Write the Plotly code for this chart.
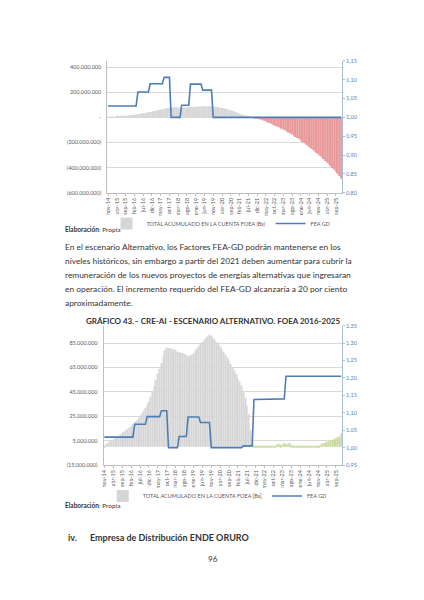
import plotly.graph_objects as go

# --- Categories: monthly from nov-14 to dic-25 ---
MESES = ["ene", "feb", "mar", "abr", "may", "jun", "jul", "ago", "sep", "oct", "nov", "dic"]
months = [f"{m}-14" for m in MESES[10:]] + [f"{m}-{y:02d}" for y in range(15, 26) for m in MESES]
tick_months = months[::5]

# --- Chart 1 (page top): accumulated FOEA account, millions of Bs ---
foea_1 = [
    0.5, 1.5, 2.5, 3.5, 4.5, 5.8, 7.0, 8.5, 10.0, 11.5,
    13.0, 14.5, 16.0, 17.5, 19.0, 21.0, 23.0, 25.0, 27.0, 29.5,
    32.0, 34.5, 37.0, 40.0, 43.0, 46.0, 49.0, 52.0, 55.0, 58.0,
    61.0, 64.0, 67.0, 70.0, 73.0, 76.0, 78.0, 79.0, 79.5, 79.5,
    79.0, 78.5, 78.0, 78.0, 78.5, 79.0, 80.0, 81.0, 82.0, 83.0,
    84.0, 85.0, 86.0, 87.0, 88.0, 88.5, 89.0, 89.0, 88.5, 87.5,
    86.0, 84.0, 82.0, 79.5, 77.0, 74.0, 71.0, 67.5, 64.0, 60.0,
    56.0, 51.5, 47.0, 40.0, 34.0, 29.0, 24.5, 20.0, 15.0, 10.5,
    6.5, 3.0, 0.5, -2.0, -5.0, -9.0, -13.5, -18.0, -22.5, -27.5,
    -33.0, -39.0, -45.0, -51.5, -58.0, -64.5, -71.0, -77.5, -84.0, -90.5,
    -97.0, -104.0, -112.0, -120.0, -128.5, -137.0, -146.0, -155.5, -165.0, -175.0,
    -185.5, -196.0, -207.0, -217.5, -228.0, -238.5, -249.5, -260.5, -272.0, -284.0,
    -296.0, -308.5, -321.0, -334.0, -347.0, -360.5, -374.0, -388.0, -402.0, -416.5,
    -432.0, -449.0, -467.0, -488.0,
]
fea_gd_1 = [
    1.03, 1.03, 1.03, 1.03, 1.03, 1.03, 1.03, 1.03, 1.03, 1.03,
    1.03, 1.03, 1.03, 1.03, 1.03, 1.03, 1.03, 1.067, 1.067, 1.067,
    1.067, 1.067, 1.067, 1.067, 1.089, 1.089, 1.089, 1.089, 1.089, 1.089,
    1.089, 1.089, 1.106, 1.106, 1.106, 1.106, 1.00, 1.00, 1.00, 1.00,
    1.00, 1.00, 1.032, 1.032, 1.032, 1.032, 1.032, 1.088, 1.088, 1.088,
    1.088, 1.088, 1.088, 1.088, 1.072, 1.072, 1.072, 1.072, 1.072, 1.072,
    1.00, 1.00, 1.00, 1.00, 1.00, 1.00, 1.00, 1.00, 1.00, 1.00,
    1.00, 1.00, 1.00, 1.00, 1.00, 1.00, 1.00, 1.00, 1.00, 1.00,
    1.00, 1.00, 1.00, 1.00, 1.00, 1.00, 1.00, 1.00, 1.00, 1.00,
    1.00, 1.00, 1.00, 1.00, 1.00, 1.00, 1.00, 1.00, 1.00, 1.00,
    1.00, 1.00, 1.00, 1.00, 1.00, 1.00, 1.00, 1.00, 1.00, 1.00,
    1.00, 1.00, 1.00, 1.00, 1.00, 1.00, 1.00, 1.00, 1.00, 1.00,
    1.00, 1.00, 1.00, 1.00, 1.00, 1.00, 1.00, 1.00, 1.00, 1.00,
    1.00, 1.00, 1.00, 1.00,
]

# --- Chart 2 (GRAFICO 43): accumulated FOEA account, millions of Bs ---
foea_2 = [
    1.2, 2.2, 3.3, 4.3, 5.2, 6.0, 7.0, 8.0, 9.0, 10.0,
    11.2, 12.3, 13.4, 14.6, 15.8, 17.0, 18.5, 20.0, 21.5, 23.0,
    25.0, 27.0, 29.5, 32.0, 34.5, 37.0, 41.0, 45.5, 50.0, 55.0,
    60.0, 64.0, 69.0, 74.0, 79.0, 81.5, 81.0, 80.8, 80.5, 80.0,
    79.5, 78.0, 77.5, 77.2, 77.0, 76.0, 75.0, 74.0, 74.5, 75.5,
    76.5, 78.5, 80.5, 82.5, 84.5, 86.0, 87.5, 89.0, 90.5, 92.0,
    91.0, 89.5, 88.0, 86.0, 84.0, 82.0, 80.0, 78.0, 75.5, 73.0,
    70.5, 68.0, 65.5, 62.5, 59.5, 56.5, 53.5, 50.0, 45.0, 40.0,
    34.0, 27.0, 14.0, 3.5, 0.6, 0.5, 0.4, 0.3, 0.5, 0.4,
    0.3, 0.2, 0.4, 0.3, 0.4, 0.5, 1.0, 1.8, 2.5, 1.5,
    2.0, 2.8, 1.8, 2.2, 3.0, 1.5, 0.8, 0.4, 0.6, 1.0,
    0.5, 1.1, 0.4, 0.3, 0.5, 0.3, 0.2, 0.3, 0.2, 0.4,
    0.3, 1.0, 2.5, 3.0, 3.2, 4.0, 4.5, 5.0, 5.8, 6.2,
    7.0, 7.8, 8.5, 11.0,
]
fea_gd_2 = [
    1.03, 1.03, 1.03, 1.03, 1.03, 1.03, 1.03, 1.03, 1.03, 1.03,
    1.03, 1.03, 1.03, 1.03, 1.03, 1.03, 1.03, 1.067, 1.067, 1.067,
    1.067, 1.067, 1.067, 1.067, 1.089, 1.089, 1.089, 1.089, 1.089, 1.089,
    1.089, 1.089, 1.106, 1.106, 1.106, 1.106, 1.00, 1.00, 1.00, 1.00,
    1.00, 1.00, 1.032, 1.032, 1.032, 1.032, 1.032, 1.088, 1.088, 1.088,
    1.088, 1.088, 1.088, 1.088, 1.072, 1.072, 1.072, 1.072, 1.072, 1.072,
    1.00, 1.00, 1.00, 1.00, 1.00, 1.00, 1.00, 1.00, 1.00, 1.00,
    1.00, 1.00, 1.00, 1.00, 1.00, 1.00, 1.00, 1.00, 1.005, 1.005,
    1.005, 1.005, 1.005, 1.005, 1.138, 1.138, 1.138, 1.138, 1.138, 1.138,
    1.14, 1.14, 1.14, 1.14, 1.14, 1.14, 1.14, 1.14, 1.14, 1.14,
    1.14, 1.14, 1.205, 1.205, 1.205, 1.205, 1.205, 1.205, 1.205, 1.205,
    1.205, 1.205, 1.205, 1.205, 1.205, 1.205, 1.205, 1.205, 1.205, 1.205,
    1.205, 1.205, 1.205, 1.205, 1.205, 1.205, 1.205, 1.205, 1.205, 1.205,
    1.205, 1.205, 1.205, 1.205,
]

# --- Axis tick labels ---
y1_ticks = [400, 200, 0, -200, -400, -600]
y1_text = ["400.000.000", "200.000.000", "-", "(200.000.000)", "(400.000.000)", "(600.000.000)"]
y3_ticks = [85, 65, 45, 25, 5, -15]
y3_text = ["85.000.000", "65.000.000", "45.000.000", "25.000.000", "5.000.000", "(15.000.000)"]

BAR_NAME = "TOTAL ACUMULADO EN LA CUENTA FOEA (Bs)"
BAR_NAME_2 = "TOTAL ACUMULADO EN LA CUENTA FOEA [Bs]"
LINE_NAME = "FEA GD"

GRAY = "#D6D6D6"
RED = "#E89A9A"
GREEN = "#C9DA9E"
BLUE = "#4D7DB5"
AXIS_TXT = "#595959"
BLUE_TXT = "#4F7FB8"

colors_1 = [RED if v < 0 else GRAY for v in foea_1]
colors_2 = [GREEN if i >= 84 else GRAY for i in range(len(foea_2))]

fig = go.Figure()

fig.add_trace(go.Bar(x=months, y=foea_1, name=BAR_NAME, xaxis="x", yaxis="y",
                     marker=dict(color=colors_1, line=dict(width=0)), legend="legend"))
fig.add_trace(go.Scatter(x=months, y=fea_gd_1, name=LINE_NAME, mode="lines", xaxis="x", yaxis="y2",
                         line=dict(color=BLUE, width=1.6), legend="legend"))

fig.add_trace(go.Bar(x=months, y=foea_2, name=BAR_NAME_2, xaxis="x2", yaxis="y3",
                     marker=dict(color=colors_2, line=dict(width=0)), legend="legend2"))
fig.add_trace(go.Scatter(x=months, y=fea_gd_2, name=LINE_NAME, mode="lines", xaxis="x2", yaxis="y4",
                         line=dict(color=BLUE, width=1.6), legend="legend2"))

tick_font = dict(size=5.5, color=AXIS_TXT)
xcommon = dict(type="category", tickmode="array", tickvals=tick_months, tickangle=-90,
               tickfont=tick_font, ticks="outside", ticklen=2, tickcolor="#BFBFBF",
               showline=True, linecolor="#BFBFBF", linewidth=0.8, showgrid=False,
               range=[-0.5, len(months) - 0.5])
yleft = dict(tickmode="array", tickfont=tick_font, showgrid=True, gridcolor="#D9D9D9",
             gridwidth=0.7, zeroline=False, showline=True, linecolor="#BFBFBF",
             linewidth=0.8, ticks="", ticklabelstandoff=4)
yright = dict(side="right", dtick=0.05, tickformat=".2f", showgrid=False, zeroline=False,
              showline=True, linecolor="#A9BDD6", linewidth=0.8, ticks="outside",
              ticklen=2, tickcolor="#A9BDD6", tickfont=dict(size=5.5, color=BLUE_TXT))

legend_common = dict(orientation="h", xanchor="center", yanchor="middle",
                     font=dict(size=5.5, color=AXIS_TXT), itemwidth=30,
                     bgcolor="rgba(0,0,0,0)", tracegroupgap=0)

fig.update_layout(
    width=424, height=600,
    margin=dict(l=0, r=0, t=0, b=0),
    paper_bgcolor="white", plot_bgcolor="white",
    font=dict(family="Lato", color="#262626"),
    separators=",.",
    bargap=0.4,
    xaxis=dict(domain=[0.2493, 0.8059], anchor="y", **xcommon),
    yaxis=dict(domain=[0.6805, 0.9028], anchor="x", range=[-600, 450],
               tickvals=y1_ticks, ticktext=y1_text, **yleft),
    yaxis2=dict(overlaying="y", anchor="x", range=[0.80, 1.15], **yright),
    xaxis2=dict(domain=[0.2406, 0.8059], anchor="y3", **xcommon),
    yaxis3=dict(domain=[0.2222, 0.4567], anchor="x2", range=[-15, 99.3],
                tickvals=y3_ticks, ticktext=y3_text, **yleft),
    yaxis4=dict(overlaying="y3", anchor="x2", range=[0.95, 1.35], **yright),
    legend=dict(x=0.519, y=0.6288, **legend_common),
    legend2=dict(x=0.51, y=0.17, **legend_common),
)

# --- Page text ---
def note(x, y, text, size, anchor="left", color="#333333"):
    fig.add_annotation(x=x / 424, y=1 - y / 600, xref="paper", yref="paper",
                       xanchor=anchor, yanchor="middle", text=text, showarrow=False,
                       font=dict(size=size, color=color))

note(61, 229, "<b>Elaboración</b>: Propia", 6.5)

paragraph = [
    "En el escenario Alternativo, los Factores FEA-GD podrán mantenerse en los",
    "niveles históricos, sin embargo a partir del 2021 deben aumentar para cubrir la",
    "remuneración de los nuevos proyectos de energías alternativas que ingresaran",
    "en operación. El incremento requerido del FEA-GD alcanzaría a 20 por ciento",
    "aproximadamente.",
]
for i, line in enumerate(paragraph):
    note(61, 246.7 + i * 14.2, line, 8.4)

note(212, 321.7, "<b>GRÁFICO 43.– CRE-AI - ESCENARIO ALTERNATIVO. FOEA 2016-2025</b>", 8, anchor="center")
note(61, 508, "<b>Elaboración</b>: Propia", 6.5)
note(64, 540, "<b>iv.</b>", 9)
note(86, 540, "<b>Empresa de Distribución ENDE ORURO</b>", 9)
note(212, 562, "96", 8, anchor="center")

# page-like rendering: no browser body margin, no toolbar
fig.write_html("out.html", config={"displayModeBar": False},
               post_script="document.body.style.margin='0';")
